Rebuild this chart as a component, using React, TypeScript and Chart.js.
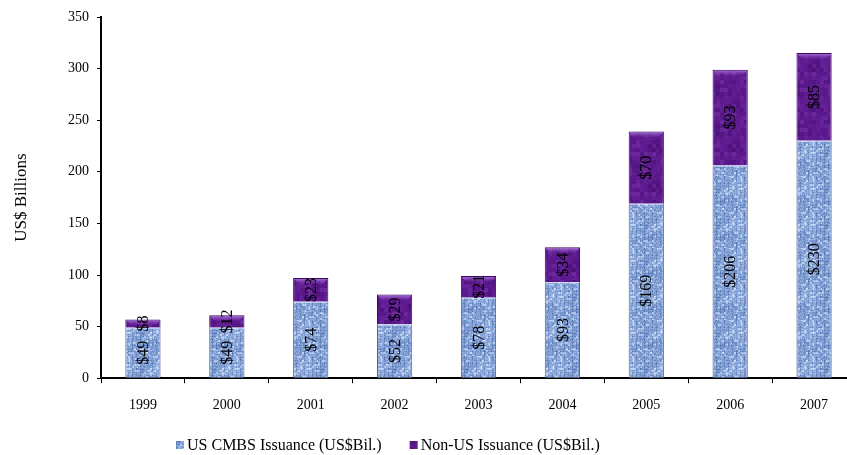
import React, { useEffect, useRef } from "react";
import { Chart, registerables } from "chart.js";

Chart.register(...registerables);

// Issuance by year, US$ billions
const years = ["1999", "2000", "2001", "2002", "2003", "2004", "2005", "2006", "2007"];
const usCmbsIssuance = [49, 49, 74, 52, 78, 93, 169, 206, 230];
const nonUsIssuance = [8, 12, 23, 29, 21, 34, 70, 93, 85];
const seriesNames = ["US CMBS Issuance (US$Bil.)", "Non-US Issuance (US$Bil.)"];
const yAxisTitle = "US$ Billions";
const yMin = 0;
const yMax = 350;
const yStep = 50;

const SERIF = "'Liberation Serif', 'Times New Roman', serif";

type RGB = [number, number, number];

// deterministic hash used to give the fabric fills some grain
function grain(x: number, y: number, seed: number): number {
  let h = (x * 374761393 + y * 668265263 + seed * 982451653) | 0;
  h = Math.imul(h ^ (h >>> 13), 1274126177);
  h = h ^ (h >>> 16);
  return (h >>> 0) / 4294967296;
}

function mix(a: RGB, b: RGB, t: number): RGB {
  return [a[0] + (b[0] - a[0]) * t, a[1] + (b[1] - a[1]) * t, a[2] + (b[2] - a[2]) * t];
}

function shade(dark: RGB, mid: RGB, light: RGB, v: number): RGB {
  const c = Math.max(-1, Math.min(1, v));
  return c < 0 ? mix(mid, dark, -c) : mix(mid, light, c);
}

function makeDenim(ctx: CanvasRenderingContext2D): CanvasPattern | string {
  const size = 36;
  const tile = document.createElement("canvas");
  tile.width = size;
  tile.height = size;
  const t = tile.getContext("2d");
  if (!t) return "#86a2d3";
  const img = t.createImageData(size, size);
  const dark: RGB = [66, 98, 160];
  const mid: RGB = [134, 164, 216];
  const light: RGB = [218, 230, 250];
  for (let y = 0; y < size; y++) {
    for (let x = 0; x < size; x++) {
      let v = (grain(x, y, 1) - 0.5) * 0.6;
      if (x % 4 === 0) v -= 0.4 * grain(x >> 2, y >> 1, 2) + 0.08;
      if (y % 3 === 0) v -= 0.35 * grain(x >> 1, y >> 2, 3);
      if (grain(x >> 1, y >> 1, 4) > 0.78) v += 0.6;
      const blotch = grain(x >> 3, y >> 3, 5) - 0.5;
      v += blotch * 0.3;
      const c = shade(dark, mid, light, v);
      const i = (y * size + x) * 4;
      img.data[i] = c[0];
      img.data[i + 1] = c[1];
      img.data[i + 2] = c[2];
      img.data[i + 3] = 255;
    }
  }
  t.putImageData(img, 0, 0);
  return ctx.createPattern(tile, "repeat") || "#86a2d3";
}

function makeVelvet(ctx: CanvasRenderingContext2D): CanvasPattern | string {
  const size = 40;
  const tile = document.createElement("canvas");
  tile.width = size;
  tile.height = size;
  const t = tile.getContext("2d");
  if (!t) return "#5a188c";
  const img = t.createImageData(size, size);
  const dark: RGB = [62, 12, 100];
  const mid: RGB = [94, 26, 144];
  const light: RGB = [124, 60, 174];
  for (let y = 0; y < size; y++) {
    for (let x = 0; x < size; x++) {
      let v = (grain(x, y, 7) - 0.5) * 0.35;
      v += (grain(x >> 2, y >> 2, 8) - 0.5) * 0.7;
      v += (grain(x >> 3, y >> 4, 9) - 0.5) * 0.5;
      const c = shade(dark, mid, light, v);
      const i = (y * size + x) * 4;
      img.data[i] = c[0];
      img.data[i + 1] = c[1];
      img.data[i + 2] = c[2];
      img.data[i + 3] = 255;
    }
  }
  t.putImageData(img, 0, 0);
  return ctx.createPattern(tile, "repeat") || "#5a188c";
}

// highlights on the top edge of each stacked segment
const bevelPlugin = {
  id: "bevel",
  afterDatasetsDraw(chart: any) {
    const ctx: CanvasRenderingContext2D = chart.ctx;
    chart.data.datasets.forEach((_ds: any, di: number) => {
      const meta = chart.getDatasetMeta(di);
      meta.data.forEach((bar: any) => {
        const { x, y, width } = bar.getProps(["x", "y", "width"], true);
        const left = x - width / 2;
        ctx.save();
        if (di === 1) {
          const g = ctx.createLinearGradient(0, y, 0, y + 6);
          g.addColorStop(0, "rgba(190,140,235,0.85)");
          g.addColorStop(1, "rgba(150,90,210,0)");
          ctx.fillStyle = g;
          ctx.beginPath();
          ctx.moveTo(left + 1, y + 1);
          ctx.lineTo(left + width - 1, y + 1);
          ctx.lineTo(left + width - 5, y + 6);
          ctx.lineTo(left + 5, y + 6);
          ctx.closePath();
          ctx.fill();
        } else {
          ctx.fillStyle = "rgba(225,235,255,0.8)";
          ctx.fillRect(left + 1, y, width - 2, 1);
        }
        ctx.restore();
      });
    });
  },
};

// value labels, written vertically in the middle of each segment
const valueLabelPlugin = {
  id: "valueLabels",
  afterDatasetsDraw(chart: any) {
    const ctx: CanvasRenderingContext2D = chart.ctx;
    ctx.save();
    ctx.font = `16px ${SERIF}`;
    ctx.fillStyle = "#000";
    ctx.textAlign = "center";
    ctx.textBaseline = "middle";
    chart.data.datasets.forEach((ds: any, di: number) => {
      const meta = chart.getDatasetMeta(di);
      meta.data.forEach((bar: any, i: number) => {
        const { x, y, base } = bar.getProps(["x", "y", "base"], true);
        const cy = (y + base) / 2;
        ctx.save();
        ctx.translate(x, cy);
        ctx.rotate(-Math.PI / 2);
        ctx.fillText("$" + ds.data[i], 0, 1);
        ctx.restore();
      });
    });
    ctx.restore();
  },
};

// legend row under the category labels
const legendRowPlugin = {
  id: "legendRow",
  afterDraw(chart: any) {
    const ctx: CanvasRenderingContext2D = chart.ctx;
    const startX = 176;
    const rowY = 445;
    const box = 8;
    const gapText = 3;
    const gapItems = 28;
    ctx.save();
    ctx.font = `16px ${SERIF}`;
    ctx.textBaseline = "middle";
    ctx.textAlign = "left";
    let x = startX;
    chart.data.datasets.forEach((ds: any) => {
      const label = ds.label as string;
      ctx.fillStyle = ds.backgroundColor;
      ctx.fillRect(x, rowY - box / 2, box, box);
      ctx.fillStyle = "#000";
      ctx.fillText(label, x + box + gapText, rowY + 1);
      x += box + gapText + ctx.measureText(label).width + gapItems;
    });
    ctx.restore();
  },
};

export default function App() {
  const canvasRef = useRef<HTMLCanvasElement | null>(null);

  useEffect(() => {
    const canvas = canvasRef.current;
    if (!canvas) return;
    const ctx = canvas.getContext("2d");
    if (!ctx) return;
    const denim = makeDenim(ctx);
    const velvet = makeVelvet(ctx);

    const chart = new Chart(ctx, {
      type: "bar",
      data: {
        labels: years,
        datasets: [
          {
            label: seriesNames[0],
            data: usCmbsIssuance,
            backgroundColor: denim as any,
            borderColor: "#4a659c",
            borderWidth: { top: 0, right: 1, bottom: 0, left: 1 } as any,
            borderSkipped: false,
            barPercentage: 0.42,
            categoryPercentage: 1,
          },
          {
            label: seriesNames[1],
            data: nonUsIssuance,
            backgroundColor: velvet as any,
            borderColor: "#3a0a60",
            borderWidth: { top: 1, right: 1, bottom: 0, left: 1 } as any,
            borderSkipped: false,
            barPercentage: 0.42,
            categoryPercentage: 1,
          },
        ],
      },
      options: {
        responsive: false,
        animation: false,
        layout: { padding: { top: 17, right: 6, bottom: 27, left: 0 } },
        plugins: {
          legend: { display: false },
          tooltip: { enabled: false },
          title: { display: false },
        },
        scales: {
          x: {
            stacked: true,
            offset: true,
            border: { display: true, color: "#000", width: 2 },
            grid: {
              display: true,
              offset: true,
              drawOnChartArea: false,
              drawTicks: true,
              tickLength: 5,
              color: "#000",
              lineWidth: 1,
            },
            ticks: {
              color: "#000",
              font: { family: SERIF, size: 14 },
              padding: 14,
              maxRotation: 0,
            },
          },
          y: {
            stacked: true,
            min: yMin,
            max: yMax,
            border: { display: true, color: "#000", width: 2 },
            grid: {
              display: true,
              drawOnChartArea: false,
              drawTicks: true,
              tickLength: 4,
              color: "#000",
              lineWidth: 1,
            },
            ticks: {
              stepSize: yStep,
              color: "#000",
              font: { family: SERIF, size: 14 },
              padding: 8,
            },
            title: {
              display: true,
              text: yAxisTitle,
              color: "#000",
              font: { family: SERIF, size: 17 },
              padding: { top: 11, bottom: 0 },
            },
            afterFit(scale: any) {
              scale.width = 101;
            },
          },
        },
      },
      plugins: [bevelPlugin, valueLabelPlugin, legendRowPlugin],
    });

    return () => chart.destroy();
  }, []);

  return (
    <div
      style={{
        position: "fixed",
        left: 0,
        top: 0,
        width: 847,
        height: 455,
        overflow: "hidden",
        background: "#fff",
      }}
    >
      <canvas ref={canvasRef} width={862} height={455} style={{ display: "block" }} />
    </div>
  );
}
